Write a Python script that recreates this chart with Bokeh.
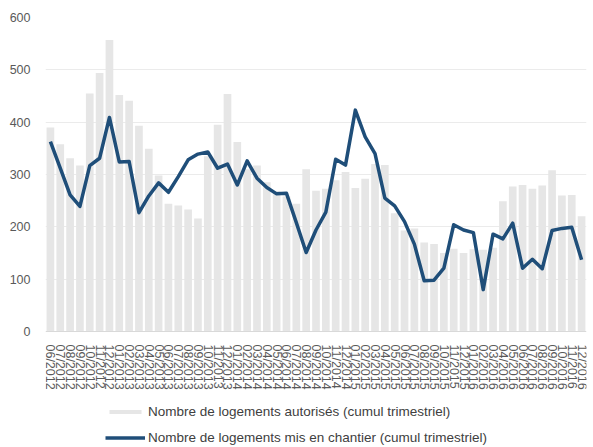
from bokeh.plotting import figure
from bokeh.models import ColumnDataSource, Legend, LegendItem, FactorRange, Range1d, FixedTicker
from bokeh.embed import file_html
from bokeh.resources import INLINE

months = [
    "06/2012", "07/2012", "08/2012", "09/2012", "10/2012", "11/2012", "12/2012",
    "01/2013", "02/2013", "03/2013", "04/2013", "05/2013", "06/2013",
    "07/2013", "08/2013", "09/2013", "10/2013", "11/2013", "12/2013",
    "01/2014", "02/2014", "03/2014", "04/2014", "05/2014", "06/2014",
    "07/2014", "08/2014", "09/2014", "10/2014", "11/2014", "12/2014",
    "01/2015", "02/2015", "03/2015", "04/2015", "05/2015", "06/2015",
    "07/2015", "08/2015", "09/2015", "10/2015", "11/2015", "12/2015",
    "01/2016", "02/2016", "03/2016", "04/2016", "05/2016", "06/2016",
    "07/2016", "08/2016", "09/2016", "10/2016", "11/2016", "12/2016",
]

autorises = [
    390, 358, 331, 317, 455, 494, 557, 452, 441, 393,
    349, 298, 244, 241, 233, 216, 335, 395, 454, 362,
    310, 317, 285, 268, 258, 244, 310, 269, 273, 289,
    305, 274, 292, 320, 318, 226, 193, 197, 170, 167,
    150, 158, 150, 157, 156, 160, 249, 277, 280, 273,
    279, 308, 260, 261, 220,
]

chantier = [
    363, 312, 261, 239, 317, 331, 409, 324, 325, 227,
    259, 284, 266, 296, 328, 339, 343, 312, 320, 280,
    326, 293, 275, 263, 264, 208, 151, 194, 228, 329,
    318, 423, 372, 340, 255, 240, 210, 167, 97, 98,
    121, 204, 194, 189, 80, 186, 177, 207, 121, 138,
    120, 193, 197, 199, 137,
]

y_ticks = [0, 100, 200, 300, 400, 500, 600]

label_autorises = "Nombre de logements autorisés (cumul trimestriel)"
label_chantier = "Nombre de logements mis en chantier (cumul trimestriel)"

FONT = "Liberation Sans"

# layout (pixels): plot top at 17 (=600), zero line at 331, figure bottom at 447
TOP_PX, ZERO_PX, BOTTOM_PX = 17, 331, 447
y_max = 600
y_min = -(BOTTOM_PX - ZERO_PX) * y_max / (ZERO_PX - TOP_PX)

src = ColumnDataSource(dict(m=months, a=autorises, c=chantier))

p = figure(
    width=593, height=447,
    x_range=FactorRange(*months),
    y_range=Range1d(y_min, y_max),
    output_backend="svg", toolbar_location=None,
    min_border_left=45, min_border_right=7, min_border_top=TOP_PX, min_border_bottom=0,
)
p.outline_line_color = None
p.background_fill_color = "white"

bars = p.vbar(x="m", top="a", bottom=0, width=0.78, source=src, fill_color="#e6e6e6", line_color=None)
line = p.line(x="m", y="c", source=src, line_color="#1f4e79", line_width=3.5, line_join="round")

p.xgrid.grid_line_color = None
p.ygrid.ticker = FixedTicker(ticks=y_ticks[1:])
p.ygrid.grid_line_color = "#ebebeb"
p.ygrid.grid_line_width = 1

p.yaxis.ticker = FixedTicker(ticks=y_ticks)
p.yaxis.axis_line_color = None
p.yaxis.major_tick_line_color = None
p.yaxis.minor_tick_line_color = None
p.yaxis.major_label_standoff = 9
p.yaxis.major_label_text_font = FONT
p.yaxis.major_label_text_font_size = "12.5px"
p.yaxis.major_label_text_color = "#595959"

p.xaxis.fixed_location = 0
p.xaxis.axis_line_color = "#d9d9d9"
p.xaxis.axis_line_width = 1
p.xaxis.major_tick_line_color = None
p.xaxis.minor_tick_line_color = None
p.xaxis.major_label_orientation = "vertical"
p.xaxis.major_label_standoff = 7
p.xaxis.major_label_text_font = FONT
p.xaxis.major_label_text_font_size = "12.5px"
p.xaxis.major_label_text_color = "#595959"

legend = Legend(
    items=[LegendItem(label=label_autorises, renderers=[bars]),
           LegendItem(label=label_chantier, renderers=[line])],
    location=(60, 0),
    orientation="vertical",
    glyph_width=40, glyph_height=5,
    label_height=20, label_standoff=3, spacing=6,
    padding=0, margin=0,
    border_line_color=None, background_fill_alpha=0,
    label_text_font=FONT, label_text_font_size="13.5px", label_text_color="#404040",
)
p.add_layout(legend, "center")

open("out.html", "w").write(file_html(p, INLINE))
